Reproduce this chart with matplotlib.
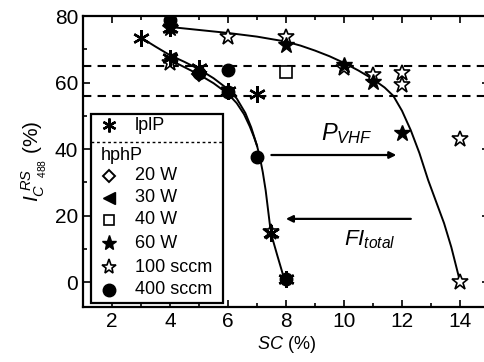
import matplotlib
matplotlib.use("Agg")
import matplotlib.pyplot as plt
from matplotlib.patches import Rectangle
from matplotlib.lines import Line2D

plt.rcParams['font.family'] = ['Liberation Sans', 'DejaVu Sans']
plt.rcParams['mathtext.fontset'] = 'custom'
plt.rcParams['mathtext.rm'] = 'Liberation Sans'
plt.rcParams['mathtext.it'] = 'Liberation Sans:italic'
plt.rcParams['mathtext.bf'] = 'Liberation Sans:bold'

# ---- data ----
lplp_x = [3, 4, 4, 5, 6, 7, 7.5, 8]
lplp_y = [73.5, 76.5, 67.5, 64.5, 57.5, 56.5, 14.7, 0.8]

w20_x = [5]
w20_y = [62.5]

w30_x = [4]
w30_y = [67.5]

w40_x = [8]
w40_y = [63.2]

w60_x = [4, 8, 10, 11, 12]
w60_y = [76.5, 71.3, 65.3, 60.2, 44.8]

s100_x = [4, 6, 8, 10, 11, 12, 12, 14, 14, 7.5]
s100_y = [66, 73.7, 73.7, 64.4, 62.3, 62.9, 59.2, 43.0, 0.0, 15.0]

s400_x = [4, 5, 6, 6, 7, 8]
s400_y = [78.8, 63.0, 63.8, 57.0, 37.6, 0.8]

# fitted curves
curveA_x = [3, 3.5, 4, 4.5, 5, 5.5, 6, 6.3, 6.6, 6.8, 7.0, 7.1, 7.2, 7.3, 7.48, 7.7, 7.93]
curveA_y = [73.5, 70.8, 68.2, 66.2, 64.0, 61.3, 58.0, 55.2, 50.8, 46.5, 41.0, 37.5, 33.0, 27.5, 14.7, 8.0, 1.2]
curveB_x = [4, 4.5, 5, 5.5, 6, 6.3, 6.55, 6.75, 6.9, 7.0]
curveB_y = [66.8, 64.6, 62.4, 59.8, 56.6, 53.8, 50.5, 46.8, 43.5, 41.0]
curveC_x = [4, 5, 6, 7, 8, 8.5, 9, 9.5, 10, 10.5, 11, 11.4, 11.7, 12.0, 12.3, 12.6, 12.9, 13.2, 13.45, 13.7, 13.97]
curveC_y = [76.7, 75.8, 74.9, 73.8, 72.3, 71.1, 69.6, 67.9, 65.9, 63.6, 61.0, 58.5, 56.0, 51.5, 45.7, 38.8, 30.7, 23.6, 17.7, 10.5, 1.2]

hlines_y = [65, 56]

fig = plt.figure(figsize=(4.85, 3.62), dpi=100)
ax = fig.add_axes([83/485, (362-307)/362, 406/485, (307-16)/362])
ax.set_xlim(1, 15)
ax.set_ylim(-7.5, 80)

for yv in hlines_y:
    ax.axhline(yv, color='black', lw=1.5, ls=(0, (4, 3)), zorder=1)

ax.plot(curveA_x, curveA_y, color='black', lw=1.4, zorder=2)
ax.plot(curveB_x, curveB_y, color='black', lw=1.4, zorder=2)
ax.plot(curveC_x, curveC_y, color='black', lw=1.4, zorder=2)

ast = (6, 2, 0)
kw = dict(ls='none', color='black', zorder=3)
ax.plot(s100_x, s100_y, marker='*', ms=12, mfc='white', mec='black', mew=1.2, **kw)
ax.plot(w40_x, w40_y, marker='s', ms=8, mfc='white', mec='black', mew=1.2, **kw)
ax.plot(w20_x, w20_y, marker='D', ms=7, mfc='white', mec='black', mew=1.4, **kw)
ax.plot(s400_x, s400_y, marker='o', ms=9, mfc='black', mec='black', **kw)
ax.plot(w30_x, w30_y, marker='<', ms=9, mfc='black', mec='black', **kw)
ax.plot(w60_x, w60_y, marker='*', ms=12, mfc='black', mec='black', **kw)
ax.plot(lplp_x, lplp_y, marker=ast, ms=12, mec='black', mew=1.7, **kw)

# arrows and annotations
ax.annotate('', xy=(11.9, 38.2), xytext=(7.4, 38.2),
            arrowprops=dict(arrowstyle='-|>', color='black', lw=1.6, mutation_scale=10))
ax.annotate('', xy=(7.9, 19.0), xytext=(12.4, 19.0),
            arrowprops=dict(arrowstyle='-|>', color='black', lw=1.6, mutation_scale=10))
ax.text(9.2, 42.7, r'$P_{VHF}$', fontsize=17, ha='left', va='baseline')
ax.text(10.0, 11.1, r'$FI_{total}$', fontsize=16, ha='left', va='baseline')

# manual legend
T = ax.transAxes
def px2ax(px, py):
    return ((px - 83) / 406, (307 - py) / 291)

x0, y0 = px2ax(91, 303)
x1, y1 = px2ax(223, 114)
ax.add_patch(Rectangle((x0, y0), x1 - x0, y1 - y0, transform=T, fill=True,
                       facecolor='white', edgecolor='black', lw=1.6, zorder=5))
lx, ly = px2ax(91, 142)
rx, _ = px2ax(223, 142)
ax.add_line(Line2D([lx, rx], [ly, ly], transform=T, color='black', lw=1.0,
                   ls=(0, (2, 2)), zorder=6))

mx = px2ax(109, 0)[0]
tx = px2ax(135, 0)[0]
entries = [
    (125, dict(marker=ast, ms=10, mec='black', mew=1.7), 'lplP'),
    (176, dict(marker='D', ms=6, mfc='white', mec='black', mew=1.4), '20 W'),
    (198, dict(marker='<', ms=8, mfc='black', mec='black'), '30 W'),
    (220, dict(marker='s', ms=7, mfc='white', mec='black', mew=1.2), '40 W'),
    (243, dict(marker='*', ms=11, mfc='black', mec='black'), '60 W'),
    (267, dict(marker='*', ms=11, mfc='white', mec='black', mew=1.2), '100 sccm'),
    (290, dict(marker='o', ms=9, mfc='black', mec='black'), '400 sccm'),
]
for py, mk, lab in entries:
    yy = px2ax(0, py)[1]
    ax.add_line(Line2D([mx], [yy], transform=T, color='black', ls='none', zorder=7, **mk))
    ax.text(tx, yy, lab, transform=T, fontsize=13, ha='left', va='center', zorder=7)
ax.text(px2ax(101, 0)[0], px2ax(0, 156)[1], 'hphP', transform=T, fontsize=13,
        ha='left', va='center', zorder=7)

# ticks
ax.set_xticks([2, 4, 6, 8, 10, 12, 14])
ax.set_xticks(range(1, 16), minor=True)
ax.set_yticks([0, 20, 40, 60, 80])
ax.set_yticks(range(0, 81, 10), minor=True)
ax.tick_params(which='both', direction='in', top=True, right=True, width=1.2)
ax.tick_params(which='major', length=5, labelsize=15)
ax.tick_params(which='minor', length=3)
for s in ax.spines.values():
    s.set_linewidth(1.6)

ax.set_xlabel(r'$SC$ (%)', fontsize=13, labelpad=2)
ax.set_ylabel(r'$I^{\ RS}_{C\ \ _{488}}$ (%)', fontsize=15, labelpad=4)

fig.savefig('out.png', dpi=100)
